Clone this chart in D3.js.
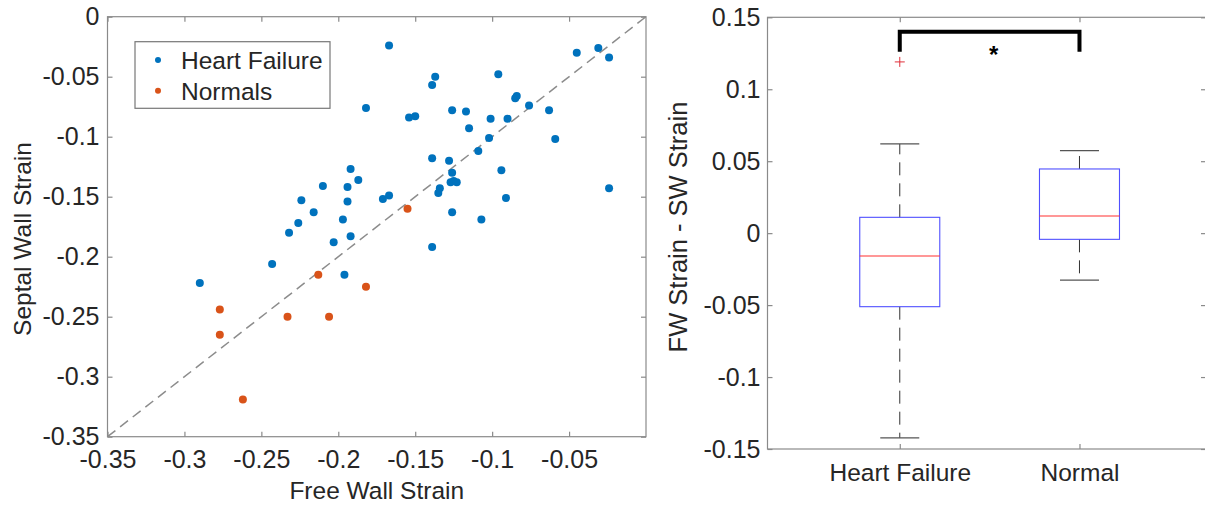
<!DOCTYPE html>
<html>
<head>
<meta charset="utf-8">
<script src="https://cdn.jsdelivr.net/npm/d3@7"></script>
<style>
  html, body { margin: 0; padding: 0; background: #fff; }
  svg { display: block; font-family: "Liberation Sans", Arial, Helvetica, sans-serif; }
  text { fill: #262626; }
</style>
</head>
<body>
<svg width="1205" height="506"></svg>
<script>
// ---- scatter data: [free wall strain, septal wall strain]
var heartFailure = [
  [-0.167, -0.024], [-0.137, -0.050], [-0.139, -0.057], [-0.096, -0.048],
  [-0.045, -0.030], [-0.031, -0.026], [-0.024, -0.034], [-0.182, -0.076],
  [-0.154, -0.084], [-0.150, -0.083], [-0.126, -0.078], [-0.117, -0.079],
  [-0.115, -0.093], [-0.101, -0.085], [-0.090, -0.085], [-0.085, -0.068],
  [-0.084, -0.066], [-0.076, -0.074], [-0.063, -0.078], [-0.059, -0.102],
  [-0.102, -0.101], [-0.109, -0.112], [-0.139, -0.118], [-0.128, -0.120],
  [-0.126, -0.130], [-0.127, -0.138], [-0.125, -0.137], [-0.123, -0.138],
  [-0.094, -0.128], [-0.134, -0.143], [-0.135, -0.147], [-0.192, -0.127],
  [-0.187, -0.136], [-0.194, -0.142], [-0.194, -0.154], [-0.171, -0.152],
  [-0.167, -0.149], [-0.091, -0.151], [-0.024, -0.143], [-0.126, -0.163],
  [-0.107, -0.169], [-0.197, -0.169], [-0.210, -0.141], [-0.224, -0.153],
  [-0.216, -0.163], [-0.226, -0.172], [-0.232, -0.180], [-0.203, -0.188],
  [-0.192, -0.183], [-0.243, -0.206], [-0.196, -0.215], [-0.290, -0.222],
  [-0.139, -0.192]
];
var normals = [
  [-0.155, -0.160], [-0.213, -0.215], [-0.277, -0.244], [-0.233, -0.250],
  [-0.206, -0.250], [-0.277, -0.265], [-0.262, -0.319], [-0.182, -0.225]
];
var seriesNames = ["Heart Failure", "Normals"];
var xTicks = [-0.35, -0.3, -0.25, -0.2, -0.15, -0.1, -0.05];
var yTicks = [-0.35, -0.3, -0.25, -0.2, -0.15, -0.1, -0.05, 0];

// ---- box plot data (FW strain - SW strain)
var groups = ["Heart Failure", "Normal"];
var whiskerLow = [-0.1423, -0.0326];
var q1 = [-0.0511, -0.0043];
var medians = [-0.0159, 0.0119];
var q3 = [0.0110, 0.0446];
var whiskerHigh = [0.0620, 0.0573];
var outliers = [[0.119], []];
var boxTicks = [-0.15, -0.1, -0.05, 0, 0.05, 0.1, 0.15];
var bracketTop = 0.140, bracketLeg = 0.126;

var BLUE = "#0072BD", ORANGE = "#D95319", AXIS = "#8a8a8a";
var fmt = d => String(+d.toFixed(2));

var svg = d3.select("svg");
svg.append("rect").attr("width", 1205).attr("height", 506).attr("fill", "#fff");

function frame(g, x, y) {
  g.append("rect")
    .attr("x", x.range()[0]).attr("y", y.range()[1])
    .attr("width", x.range()[1] - x.range()[0])
    .attr("height", y.range()[0] - y.range()[1])
    .attr("fill", "none").attr("stroke", AXIS).attr("stroke-width", 1.2);
}

function styleAxis(g, size) {
  g.select(".domain").remove();
  g.selectAll(".tick line").attr("stroke", AXIS).attr("stroke-width", 1.2);
  g.selectAll(".tick text").attr("fill", "#262626").style("font-size", size + "px");
}

// ================= left: scatter =================
var x = d3.scaleLinear().domain([-0.35, 0]).range([107.5, 646]);
var y = d3.scaleLinear().domain([-0.35, 0]).range([436.7, 16.7]);
var left = svg.append("g");

left.append("g").attr("transform", "translate(0," + y(-0.35) + ")")
  .call(d3.axisBottom(x).tickValues(xTicks).tickFormat(fmt).tickSizeInner(-5).tickSizeOuter(0).tickPadding(14))
  .call(g => styleAxis(g, 25));
left.append("g").attr("transform", "translate(0," + y(0) + ")")
  .call(d3.axisTop(x).tickValues(xTicks).tickFormat("").tickSizeInner(-5).tickSizeOuter(0))
  .call(g => styleAxis(g, 25));
left.append("g").attr("transform", "translate(" + x(-0.35) + ",0)")
  .call(d3.axisLeft(y).tickValues(yTicks).tickFormat(fmt).tickSizeInner(-5).tickSizeOuter(0).tickPadding(8))
  .call(g => styleAxis(g, 25));
left.append("g").attr("transform", "translate(" + x(0) + ",0)")
  .call(d3.axisRight(y).tickValues(yTicks).tickFormat("").tickSizeInner(-5).tickSizeOuter(0))
  .call(g => styleAxis(g, 25));
frame(left, x, y);

// identity line
left.append("line")
  .attr("x1", x(-0.35)).attr("y1", y(-0.35)).attr("x2", x(0)).attr("y2", y(0))
  .attr("stroke", "#8c8c8c").attr("stroke-width", 1.5).attr("stroke-dasharray", "10,6");

left.append("g").selectAll("circle").data(heartFailure).enter().append("circle")
  .attr("cx", d => x(d[0])).attr("cy", d => y(d[1])).attr("r", 4).attr("fill", BLUE);
left.append("g").selectAll("circle").data(normals).enter().append("circle")
  .attr("cx", d => x(d[0])).attr("cy", d => y(d[1])).attr("r", 4).attr("fill", ORANGE);

// legend
var legend = left.append("g");
legend.append("rect").attr("x", 135).attr("y", 41.7).attr("width", 195).attr("height", 66.6)
  .attr("fill", "#fff").attr("stroke", "#777").attr("stroke-width", 1.2);
legend.selectAll("g.entry").data(seriesNames).enter().append("g").attr("class", "entry")
  .attr("transform", (d, i) => "translate(158," + (60 + i * 30.7) + ")")
  .each(function(d, i) {
    var e = d3.select(this);
    e.append("circle").attr("r", 3).attr("fill", i ? ORANGE : BLUE);
    e.append("text").attr("x", 23).attr("dy", "0.36em").style("font-size", "24.5px").text(d);
  });

left.append("text").attr("x", (x.range()[0] + x.range()[1]) / 2).attr("y", 499)
  .attr("text-anchor", "middle").style("font-size", "24.5px").text("Free Wall Strain");
left.append("text").attr("transform", "translate(31," + 239 + ") rotate(-90)")
  .attr("text-anchor", "middle").style("font-size", "24.5px").text("Septal Wall Strain");

// ================= right: box plot =================
var bx = d3.scaleLinear().domain([0.264, 2.704]).range([767.5, 1206]);
var by = d3.scaleLinear().domain([-0.15, 0.15]).range([449, 17.3]);
var right = svg.append("g");
var pos = groups.map((g, i) => i + 1);

right.append("g").attr("transform", "translate(0," + by(-0.15) + ")")
  .call(d3.axisBottom(bx).tickValues(pos).tickFormat((d, i) => groups[i]).tickSizeInner(-5).tickSizeOuter(0).tickPadding(14.5))
  .call(g => styleAxis(g, 24.5));
right.append("g").attr("transform", "translate(0," + by(0.15) + ")")
  .call(d3.axisTop(bx).tickValues(pos).tickFormat("").tickSizeInner(-5).tickSizeOuter(0))
  .call(g => styleAxis(g, 24.5));
right.append("g").attr("transform", "translate(" + bx.range()[0] + ",0)")
  .call(d3.axisLeft(by).tickValues(boxTicks).tickFormat(fmt).tickSizeInner(-5).tickSizeOuter(0).tickPadding(7))
  .call(g => styleAxis(g, 25));
right.append("g").attr("transform", "translate(" + bx.range()[1] + ",0)")
  .call(d3.axisRight(by).tickValues(boxTicks).tickFormat("").tickSizeInner(-5).tickSizeOuter(0))
  .call(g => styleAxis(g, 25));
frame(right, bx, by);

var halfBox = 0.2226, halfCap = 0.1085;
var boxes = right.selectAll("g.box").data(groups).enter().append("g").attr("class", "box");
boxes.each(function(d, i) {
  var g = d3.select(this), c = pos[i];
  // whiskers
  [[q3[i], whiskerHigh[i]], [q1[i], whiskerLow[i]]].forEach(function(w) {
    g.append("line").attr("x1", bx(c)).attr("x2", bx(c)).attr("y1", by(w[0])).attr("y2", by(w[1]))
      .attr("stroke", "#333").attr("stroke-width", 1).attr("stroke-dasharray", "13,8");
    g.append("line").attr("x1", bx(c - halfCap)).attr("x2", bx(c + halfCap)).attr("y1", by(w[1])).attr("y2", by(w[1]))
      .attr("stroke", "#555").attr("stroke-width", 1.2);
  });
  g.append("rect").attr("x", bx(c - halfBox)).attr("width", bx(c + halfBox) - bx(c - halfBox))
    .attr("y", by(q3[i])).attr("height", by(q1[i]) - by(q3[i]))
    .attr("fill", "none").attr("stroke", "#5050ff").attr("stroke-width", 1.1);
  g.append("line").attr("x1", bx(c - halfBox)).attr("x2", bx(c + halfBox)).attr("y1", by(medians[i])).attr("y2", by(medians[i]))
    .attr("stroke", "#ff3030").attr("stroke-width", 1.1);
  outliers[i].forEach(function(o) {
    g.append("path").attr("d", "M" + (bx(c) - 5) + "," + by(o) + "h10M" + bx(c) + "," + (by(o) - 5) + "v10")
      .attr("stroke", "#e0303a").attr("stroke-width", 1);
  });
});

// significance bracket
right.append("path")
  .attr("d", "M" + bx(1) + "," + by(bracketLeg) + "V" + by(bracketTop) + "H" + bx(2) + "V" + by(bracketLeg))
  .attr("fill", "none").attr("stroke", "#000").attr("stroke-width", 4);
right.append("text").attr("x", (bx(1) + bx(2)) / 2 + 4).attr("y", by(bracketTop) + 31)
  .attr("text-anchor", "middle").style("font-size", "24px").style("font-weight", "bold")
  .style("fill", "#000").text("*");

right.append("text").attr("transform", "translate(687," + 227 + ") rotate(-90)")
  .attr("text-anchor", "middle").style("font-size", "25.5px").text("FW Strain - SW Strain");
</script>
</body>
</html>
